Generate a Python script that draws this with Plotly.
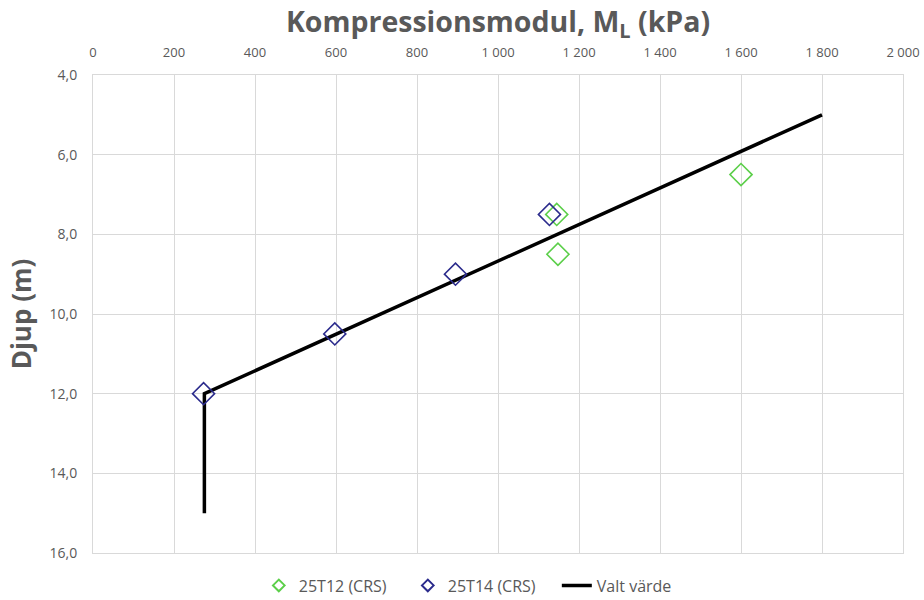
import plotly.graph_objects as go

# 25T12 (CRS) oedometer results
t12_modul = [1145, 1148, 1600]
t12_djup = [7.5, 8.5, 6.5]

# 25T14 (CRS) oedometer results
t14_modul = [273, 597, 895, 1127]
t14_djup = [12.0, 10.5, 9.0, 7.5]

# Chosen design profile
valt_modul = [275, 275, 1800]
valt_djup = [15.0, 12.0, 5.0]

x_ticks = [0, 200, 400, 600, 800, 1000, 1200, 1400, 1600, 1800, 2000]
y_ticks = [4, 6, 8, 10, 12, 14, 16]

font_family = "Open Sans, Noto Sans, sans-serif"
grey_text = "#595959"
grid = "#d9d9d9"
green = "#5ccf4a"
navy = "#2b2b8c"

fig = go.Figure()
fig.add_trace(go.Scatter(
    x=valt_modul, y=valt_djup, mode="lines", name="Valt värde",
    line=dict(color="black", width=3.5), showlegend=False,
))
fig.add_trace(go.Scatter(
    x=t12_modul, y=t12_djup, mode="markers", name="25T12 (CRS)",
    marker=dict(symbol="diamond-open", size=17, color=green, line=dict(width=1.6)),
    showlegend=False,
))
fig.add_trace(go.Scatter(
    x=t14_modul, y=t14_djup, mode="markers", name="25T14 (CRS)",
    marker=dict(symbol="diamond-open", size=17, color=navy, line=dict(width=1.6)),
    showlegend=False,
))

# legend entries with smaller symbols
fig.add_trace(go.Scatter(
    x=[None], y=[None], mode="markers", name="25T12 (CRS)",
    marker=dict(symbol="diamond-open", size=9, color=green, line=dict(width=2)),
))
fig.add_trace(go.Scatter(
    x=[None], y=[None], mode="markers", name="25T14 (CRS)",
    marker=dict(symbol="diamond-open", size=9, color=navy, line=dict(width=2)),
))
fig.add_trace(go.Scatter(
    x=[None], y=[None], mode="lines", name="Valt värde",
    line=dict(color="black", width=3.5),
))

fig.update_layout(
    width=924, height=600,
    margin=dict(l=93, r=21, t=75, b=47, autoexpand=False),
    paper_bgcolor="white", plot_bgcolor="white",
    separators=", ",
    font=dict(family=font_family, color=grey_text, size=13),
    title=dict(
        text="<b>Kompressionsmodul, M<sub>L</sub> (kPa)</b>",
        xref="paper", x=0.5, xanchor="center", y=0.963, yanchor="middle",
        font=dict(size=28.5, color=grey_text, family=font_family),
    ),
    xaxis=dict(
        side="top", range=[0, 2000], tickvals=x_ticks, tickformat=",d",
        showgrid=True, gridcolor=grid, gridwidth=1, automargin=False,
        showline=True, linecolor=grid, mirror=True, zeroline=False,
        ticks="", ticklabelstandoff=12, tickfont=dict(size=13, color=grey_text),
    ),
    yaxis=dict(
        range=[16, 4], tickvals=y_ticks, tickformat=".1f", automargin=False,
        showgrid=True, gridcolor=grid, gridwidth=1,
        showline=True, linecolor=grid, mirror=True, zeroline=False,
        ticks="", ticklabelstandoff=12, tickfont=dict(size=14, color=grey_text),
        title=dict(text="<b>Djup (m)</b>", font=dict(size=26, color=grey_text), standoff=10),
    ),
    legend=dict(
        orientation="h", xref="container", x=0.522, xanchor="center",
        y=-0.068, yanchor="middle",
        font=dict(size=16, color=grey_text),
        entrywidth=104, entrywidthmode="pixels",
    ),
)

fig.write_html("out.html")
